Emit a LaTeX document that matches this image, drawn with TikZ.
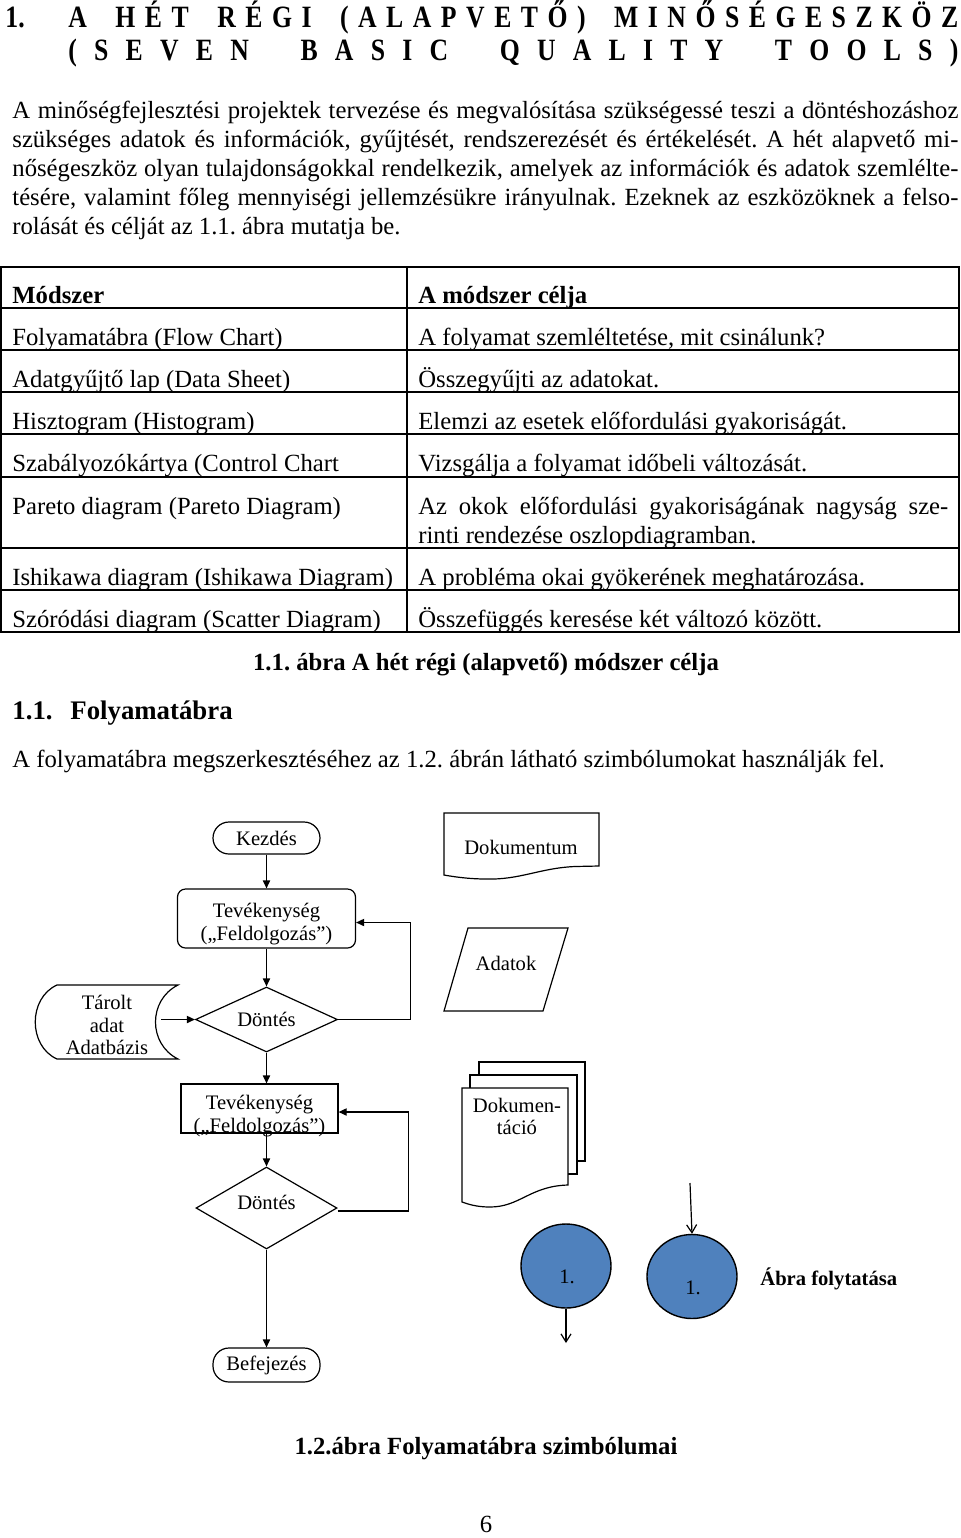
\documentclass[tikz,border=0pt]{standalone}
\usepackage{fontspec}
\setmainfont{Liberation Serif}
\newfontfamily\titlefont[FakeStretch=0.83]{Liberation Serif}
\usetikzlibrary{arrows.meta,shapes.geometric}
\newcommand\bodyfs{\fontsize{12.35pt}{14.5pt}\selectfont}
\newcommand\flowfs{\fontsize{10.3pt}{11.5pt}\selectfont}
\newcommand\titlefs{\fontsize{15.5pt}{17pt}\selectfont}
\newcommand\secfs{\fontsize{13.4pt}{16pt}\selectfont}
\newcommand\ltgap{\hfill}
\newcommand\wdgap{\hspace{\stretch{3}}}
\definecolor{circblue}{HTML}{4F81BD}
\frenchspacing
\begin{document}
\begin{tikzpicture}[x=0.5pt,y=-0.5pt,
  txt/.style={inner sep=0pt, anchor=base west, font=\bodyfs},
  ctxt/.style={inner sep=0pt, anchor=base, font=\bodyfs},
  ttl/.style={inner sep=0pt, anchor=base west, font=\titlefs\titlefont\bfseries},
  tbl/.style={line width=0.75pt},
  fl/.style={line width=0.6pt},
  arr/.style={fl, -{Triangle[length=4pt,width=3.6pt]}},
  oarr/.style={fl, -{Straight Barb[length=4pt,width=5pt]}},
  ftxt/.style={inner sep=0pt, anchor=base, font=\flowfs},
  term/.style={draw, fl, rounded corners=8pt, minimum width=53.5pt, inner sep=0pt, font=\flowfs},
  dia/.style={draw, fl, diamond, aspect=2, inner sep=0pt, font=\flowfs},
  circ/.style={draw, line width=0.7pt, ellipse, fill=circblue, minimum width=45pt, minimum height=42pt, inner sep=0pt}
]
\useasboundingbox (0,0) rectangle (960,1538);

% ---------- title ----------
\node[ttl] (tnum) at (5,27) {1.};
\node[ttl] (tline1) at (68,27) {\makebox[445pt][s]{A\wdgap H\ltgap É\ltgap T\wdgap R\ltgap É\ltgap G\ltgap I\wdgap (\ltgap A\ltgap L\ltgap A\ltgap P\ltgap V\ltgap E\ltgap T\ltgap Ő\ltgap )\wdgap M\ltgap I\ltgap N\ltgap Ő\ltgap S\ltgap É\ltgap G\ltgap E\ltgap S\ltgap Z\ltgap K\ltgap Ö\ltgap Z}};
\node[ttl] (tline2) at (68,60) {\makebox[445pt][s]{(\ltgap S\ltgap E\ltgap V\ltgap E\ltgap N\wdgap B\ltgap A\ltgap S\ltgap I\ltgap C\wdgap Q\ltgap U\ltgap A\ltgap L\ltgap I\ltgap T\ltgap Y\wdgap T\ltgap O\ltgap O\ltgap L\ltgap S\ltgap )}};

% ---------- paragraph ----------
\node[txt] (p1) at (12,118) {\makebox[473pt][s]{A minőségfejlesztési projektek tervezése és megvalósítása szükségessé teszi a döntéshozáshoz}};
\node[txt] (p2) at (12,147) {\makebox[473pt][s]{szükséges adatok és információk, gyűjtését, rendszerezését és értékelését. A hét alapvető mi-}};
\node[txt] (p3) at (12,176) {\makebox[473pt][s]{nőségeszköz olyan tulajdonságokkal rendelkezik, amelyek az információk és adatok szemlélte-}};
\node[txt] (p4) at (12,205) {\makebox[473pt][s]{tésére, valamint főleg mennyiségi jellemzésükre irányulnak. Ezeknek az eszközöknek a felso-}};
\node[txt] (p5) at (12,234) {rolását és célját az 1.1. ábra mutatja be.};

% ---------- table ----------
\draw[tbl] (1,267) rectangle (959,632);
\draw[tbl] (407,267) -- (407,632);
\foreach \yy in {308,350,392,434,477,548,590} \draw[tbl] (1,\yy) -- (959,\yy);

\node[txt, font=\bodyfs\bfseries] (h1) at (12,303) {Módszer};
\node[txt, font=\bodyfs\bfseries] (h2) at (418,303) {A módszer célja};
\node[txt] (a1) at (12,345) {Folyamatábra (Flow Chart)};
\node[txt] (b1) at (418,345) {A folyamat szemléltetése, mit csinálunk?};
\node[txt] (a2) at (12,387) {Adatgyűjtő lap (Data Sheet)};
\node[txt] (b2) at (418,387) {Összegyűjti az adatokat.};
\node[txt] (a3) at (12,429) {Hisztogram (Histogram)};
\node[txt] (b3) at (418,429) {Elemzi az esetek előfordulási gyakoriságát.};
\node[txt] (a4) at (12,471) {Szabályozókártya (Control Chart};
\node[txt] (b4) at (418,471) {Vizsgálja a folyamat időbeli változását.};
\node[txt] (a5) at (12,514) {Pareto diagram (Pareto Diagram)};
\node[txt] (b5) at (418,514) {\makebox[265pt][s]{Az okok előfordulási gyakoriságának nagyság sze-}};
\node[txt] (b5b) at (418,543) {rinti rendezése oszlopdiagramban.};
\node[txt] (a6) at (12,585) {Ishikawa diagram (Ishikawa Diagram)};
\node[txt] (b6) at (418,585) {A probléma okai gyökerének meghatározása.};
\node[txt] (a7) at (12,627) {Szóródási diagram (Scatter Diagram)};
\node[txt] (b7) at (418,627) {Összefüggés keresése két változó között.};

\node[ctxt, font=\bodyfs\bfseries] (cap1) at (486,670) {1.1. ábra A hét régi (alapvető) módszer célja};

\node[txt, font=\secfs\bfseries] (secnum) at (12,719) {1.1.};
\node[txt, font=\secfs\bfseries] (sectitle) at (70,719) {Folyamatábra};
\node[txt] (intro) at (12,767) {A folyamatábra megszerkesztéséhez az 1.2. ábrán látható szimbólumokat használják fel.};

% ---------- flowchart ----------
\node[term, minimum height=16pt] (kezd) at (266.5,838) {Kezdés};
\node[draw, fl, rounded corners=4pt, minimum width=89pt, minimum height=29.5pt, inner sep=0pt] (tev1) at (266.5,918.5) {};
\node[ftxt] (tev1a) at (266.5,917) {Tevékenység};
\node[ftxt] (tev1b) at (266.5,940) {(„Feldolgozás”)};
\node[dia, minimum width=71pt, minimum height=32.5pt] (d1) at (266.5,1019.5) {Döntés};
\node[draw, fl, minimum width=78.5pt, minimum height=24.5pt, inner sep=0pt] (tev2) at (259.5,1108.5) {};
\node[ftxt] (tev2a) at (259.5,1109) {Tevékenység};
\node[ftxt] (tev2b) at (259.5,1132) {(„Feldolgozás”)};
\node[dia, minimum width=70.5pt, minimum height=41pt] (d2) at (266.5,1208) {};
\node[ftxt] (d2t) at (266.5,1209) {Döntés};
\node[term, minimum height=17pt] (bef) at (266.5,1365) {Befejezés};

% stored data
\draw[fl, fill=white] (57,985) -- (178,985) .. controls (148,1000) and (148,1044) .. (178,1059)
  -- (57,1059) .. controls (28,1046) and (28,998) .. (57,985) -- cycle;
\node[ftxt] (tar1) at (107,1009) {Tárolt};
\node[ftxt] (tar2) at (107,1032) {adat};
\node[ftxt] (tar3) at (107,1054) {Adatbázis};
\coordinate (tarout) at (161,1019.5);

\draw[arr] (kezd) -- (tev1);
\draw[arr] (tev1) -- (d1);
\draw[arr] (d1.south) -- (d1.south |- tev2.north);
\draw[arr] (d2.north |- tev2.south) -- (d2.north);
\draw[arr] (d2) -- (bef);
\draw[arr] (tarout) -- (d1.west);
\draw[arr] (d1.east) -- ++(72,0) |- ([yshift=-2pt]tev1.east);
\draw[arr] ([yshift=-1.5pt]d2.east) -- ++(71,0) |- ([yshift=-1.75pt]tev2.east);

% document
\draw[fl, fill=white] (444,813) -- (599,813) -- (599,866) -- (575,866.5)
  .. controls (540,868) and (520,880) .. (486,879)
  .. controls (470,879) and (455,877) .. (444,875) -- cycle;
\node[ftxt] (doktxt) at (521,854) {Dokumentum};

% data
\draw[fl, fill=white] (468,928) -- (568,928) -- (543,1011) -- (444,1011) -- cycle;
\node[ftxt] (adtxt) at (506,970) {Adatok};

% multi document
\draw[fl, fill=white] (479,1062) rectangle (585,1161);
\draw[fl, fill=white] (470,1075) rectangle (577,1174);
\draw[fl, fill=white] (462,1088) -- (568,1088) -- (568,1185)
  .. controls (530,1186) and (520,1207) .. (490,1207)
  .. controls (476,1207) and (468,1204) .. (462,1202) -- cycle;
\node[ftxt] (mdt1) at (517,1112) {Dokumen-};
\node[ftxt] (mdt2) at (517,1134) {táció};

% connectors
\node[circ] (c1) at (566,1266) {};
\node[ftxt] (c1t) at (567,1283) {1.};
\coordinate (c1end) at (566,1343);
\draw[oarr] (c1.south) -- (c1end);
\node[circ] (c2) at (692,1276.5) {};
\node[ftxt] (c2t) at (693,1294) {1.};
\coordinate (c2start) at (690,1183);
\draw[oarr] (c2start) -- (c2.north);
\node[inner sep=0pt, anchor=base west, font=\flowfs\bfseries] (folyt) at (760,1285) {Ábra folytatása};

\node[ctxt, font=\bodyfs\bfseries] (cap2) at (486,1454) {1.2.ábra Folyamatábra szimbólumai};
\node[ctxt] (pnum) at (486,1532) {6};
\end{tikzpicture}
\end{document}
